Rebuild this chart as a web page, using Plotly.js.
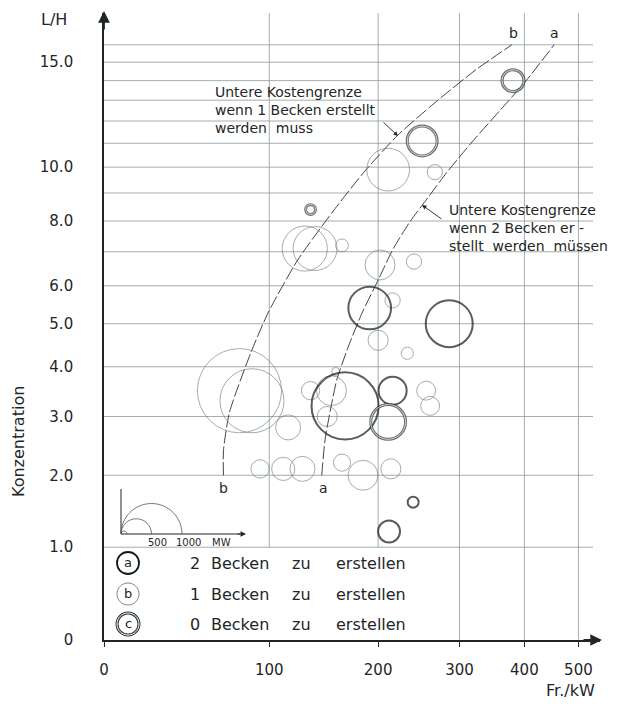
<!DOCTYPE html>
<html><head><meta charset="utf-8">
<script src="https://cdn.plot.ly/plotly-3.0.1.min.js"></script>
<style>html,body{margin:0;padding:0;background:#fff}#chart{width:623px;height:707px}</style>
</head><body><div id="chart"></div>
<script>
// ---------- data ----------
// x = Fr./kW, y = Konzentration (L/H), mw = size of unit (MW) -> circle diameter
// 1 Becken zu erstellen (thin circles)
const bX  = [129, 138, 163, 78, 87, 115, 134, 216, 200, 233, 157, 153, 149, 256, 261, 93, 111, 127, 163, 184, 214, 211, 267, 202, 241];
const bY  = [7.1, 7.1, 7.2, 3.5, 3.3, 2.8, 3.5, 5.6, 4.6, 4.3, 3.9, 3.5, 3.0, 3.5, 3.2, 2.1, 2.1, 2.1, 2.2, 2.0, 2.1, 9.9, 9.8, 6.6, 6.7];
const bMW = [740, 720, 210, 1380, 1050, 410, 300, 250, 330, 200, 130, 490, 330, 310, 310, 300, 380, 410, 280, 490, 330, 700, 250, 490, 250];
// 2 Becken zu erstellen (heavy circles)
const aX  = [191, 286, 166, 216, 240, 212];
const aY  = [5.4, 5.0, 3.2, 3.5, 1.6, 1.2];
const aMW = [700, 770, 1100, 460, 180, 360];
// 0 Becken zu erstellen (double circles)
const cX  = [134, 211, 251, 381];
const cY  = [8.4, 2.9, 11.1, 14.0];
const cMW = [160, 570, 490, 360];
// limit curves "Untere Kostengrenze"
const curveBX = [67, 67, 71, 86, 99, 123, 159, 187, 222, 271, 324, 379];
const curveBY = [2.0, 2.4, 3.07, 4.3, 5.27, 6.75, 8.56, 9.89, 11.36, 13.0, 14.6, 16.0];
const curveAX = [144, 147, 152, 158, 169, 183, 200, 216, 236, 258, 283, 318, 360, 403, 453];
const curveAY = [2.0, 2.58, 3.12, 3.72, 4.44, 5.27, 6.16, 7.06, 7.97, 8.82, 9.8, 11.06, 12.5, 14.0, 16.0];
// ticks & grid
const xTickVals = [0, 100, 200, 300, 400, 500];
const xTickText = ['0', '100', '200', '300', '400', '500'];
const yTickVals = [0, 1, 2, 3, 4, 5, 6, 8, 10, 15];
const yTickText = ['0', '1.0', '2.0', '3.0', '4.0', '5.0', '6.0', '8.0', '10.0', '15.0'];
const gridY = [1, 2, 3, 4, 5, 6, 7, 8, 9, 10, 11, 12, 13, 14, 15, 16];
const gridXShort = [100, 200];
const gridXLong = [300, 400, 500];
const legendLead = ['2', '1', '0'];
const legendSym = ['a', 'b', 'c'];
const scaleMW = [500, 1000];

// ---------- scales (shifted log axes of the original) ----------
const OFFX = 150, OFFY = 3;
const sx = v => v + OFFX, sy = v => v + OFFY;
const mwPx = 0.061; // px of diameter per MW
const L = 104, R = 23, T = 13, B = 67, W = 623, H = 707;
const PW = W - L - R, PH = H - T - B;
const pxPerDecX = 745, pxPerDecY = 742.5;
const X = px => (px - L) / PW;
const Y = py => (H - B - py) / PH;

const FONT = 'DejaVu Sans';
const INK = '#1f2626';
const GRID = '#8e9898';

const traces = [];
// grid
const gx = [], gy = [];
gridY.forEach(v => { gx.push(sx(0), sx(530), null); gy.push(sy(v), sy(v), null); });
gridXShort.forEach(v => { gx.push(sx(v), sx(v), null); gy.push(sy(1), sy(18), null); });
gridXLong.forEach(v => { gx.push(sx(v), sx(v), null); gy.push(sy(0), sy(18), null); });
traces.push({x: gx, y: gy, mode: 'lines', line: {color: GRID, width: 0.8}, hoverinfo: 'skip', connectgaps: false});
// curves
[[curveBX, curveBY], [curveAX, curveAY]].forEach(c => traces.push({
  x: c[0].map(sx), y: c[1].map(sy), mode: 'lines',
  line: {color: '#2a3030', width: 0.9, dash: '13px,3px', shape: 'spline', smoothing: 0.6}
}));
function bubbles(xs, ys, mws, color, width) {
  return {x: xs.map(sx), y: ys.map(sy), mode: 'markers', cliponaxis: false,
    marker: {size: mws, sizemode: 'diameter', sizeref: 1 / mwPx, color: 'rgba(0,0,0,0)',
      line: {color: color, width: width}}};
}
traces.push(bubbles(bX, bY, bMW, '#5f6b6b', 0.8));
traces.push(bubbles(aX, aY, aMW, '#141a1a', 2.0));
traces.push(bubbles(cX, cY, cMW, '#2b3333', 3.0));
traces.push(bubbles(cX, cY, cMW, '#ffffff', 1.0));

// ---------- decorations ----------
const k = 0.5523;
function upperHalf(cx, cy, r) {
  return `M${X(cx - r)},${Y(cy)} C${X(cx - r)},${Y(cy - k * r)} ${X(cx - k * r)},${Y(cy - r)} ${X(cx)},${Y(cy - r)} ` +
         `C${X(cx + k * r)},${Y(cy - r)} ${X(cx + r)},${Y(cy - k * r)} ${X(cx + r)},${Y(cy)}`;
}
function fullCircle(cx, cy, r) {
  return upperHalf(cx, cy, r) +
    ` C${X(cx + r)},${Y(cy + k * r)} ${X(cx + k * r)},${Y(cy + r)} ${X(cx)},${Y(cy + r)}` +
    ` C${X(cx - k * r)},${Y(cy + r)} ${X(cx - r)},${Y(cy + k * r)} ${X(cx - r)},${Y(cy)} Z`;
}
const shapes = [];
const ann = [];
function txt(t, px, py, size, opts) {
  ann.push(Object.assign({text: t, x: X(px), y: Y(py), xref: 'paper', yref: 'paper', showarrow: false,
    font: {family: FONT, size: size, color: INK}, xanchor: 'center', yanchor: 'middle'}, opts || {}));
}
function arrow(tx, ty, axp, ayp, size, width) {
  ann.push({text: '', x: X(tx), y: Y(ty), xref: 'paper', yref: 'paper', showarrow: true,
    ax: axp, ay: ayp, arrowhead: 2, arrowsize: size, arrowwidth: width, arrowcolor: INK, standoff: 0, startstandoff: 0});
}
// axis arrows
arrow(602, 640, -20, 0, 1.3, 1.8);
arrow(104, 11, 0, 20, 1.3, 1.8);
// axis titles
txt('L/H', 54, 20, 16);
txt('Konzentration', 18, 442, 16, {textangle: -90});
txt('Fr./kW', 597, 690, 16, {xanchor: 'right'});
// curve notes
txt('Untere Kostengrenze<br>wenn 1 Becken erstellt<br>werden\u00a0 muss', 213, 110, 14, {xanchor: 'left', align: 'left'});
txt('Untere Kostengrenze<br>wenn 2 Becken er -<br>stellt\u00a0 werden\u00a0 müssen', 447, 228, 14, {xanchor: 'left', align: 'left'});
arrow(398, 136, -16, -15, 1, 0.9);
arrow(422, 205, 21, 15, 1, 0.9);
txt('b', 513, 33, 14); txt('a', 554, 33, 14);
txt('b', 223, 488, 14); txt('a', 323, 488, 14);
// bubble size scale inset
const o = [121, 534];
shapes.push({type: 'path', xref: 'paper', yref: 'paper', path: `M${X(o[0])},${Y(489)} L${X(o[0])},${Y(o[1])} L${X(240)},${Y(o[1])}`,
  line: {color: INK, width: 1}});
arrow(246, o[1], -10, 0, 1.1, 1);
shapes.push({type: 'path', xref: 'paper', yref: 'paper', path: upperHalf(o[0] + 3, o[1], 3), line: {color: '#4d5858', width: 0.8}});
scaleMW.forEach(m => {
  const r = m * mwPx / 2;
  shapes.push({type: 'path', xref: 'paper', yref: 'paper', path: upperHalf(o[0] + r, o[1], r), line: {color: '#4d5858', width: 0.8}});
});
txt('500', 157, 542, 10); txt('1000', 188, 542, 10); txt('MW', 221, 542, 10);
// legend
const rows = [563, 594, 624];
rows.forEach((ry, i) => {
  const path = fullCircle(128, ry, 11);
  if (i === 0) shapes.push({type: 'path', xref: 'paper', yref: 'paper', path, line: {color: '#141a1a', width: 1.8}});
  if (i === 1) shapes.push({type: 'path', xref: 'paper', yref: 'paper', path, line: {color: '#5f6b6b', width: 0.8}});
  if (i === 2) {
    shapes.push({type: 'path', xref: 'paper', yref: 'paper', path, line: {color: '#2b3333', width: 3}});
    shapes.push({type: 'path', xref: 'paper', yref: 'paper', path, line: {color: '#ffffff', width: 1}});
  }
  txt(legendSym[i], 128, ry - 1, 13);
  txt(legendLead[i], 188, ry, 16, {xanchor: 'left'});
  txt('Becken', 209, ry, 16, {xanchor: 'left'});
  txt('zu', 290, ry, 16, {xanchor: 'left'});
  txt('erstellen', 334, ry, 16, {xanchor: 'left'});
});

const layout = {
  width: W, height: H, autosize: false, showlegend: false, hovermode: false,
  margin: {l: L, r: R, t: T, b: B, pad: 0},
  paper_bgcolor: '#fff', plot_bgcolor: '#fff',
  font: {family: FONT, color: INK},
  xaxis: {type: 'log', range: [Math.log10(OFFX), Math.log10(OFFX) + PW / pxPerDecX],
    tickvals: xTickVals.map(sx), ticktext: xTickText, ticks: 'outside', ticklen: 5, tickcolor: INK,
    tickfont: {family: FONT, size: 15, color: INK}, ticklabelstandoff: 10,
    showgrid: false, zeroline: false, showline: true, linecolor: INK, linewidth: 1.8},
  yaxis: {type: 'log', range: [Math.log10(OFFY), Math.log10(OFFY) + PH / pxPerDecY],
    tickvals: yTickVals.map(sy), ticktext: yTickText, ticks: '',
    tickfont: {family: FONT, size: 15, color: INK}, ticklabelstandoff: 26,
    showgrid: false, zeroline: false, showline: true, linecolor: INK, linewidth: 1.8},
  shapes: shapes, annotations: ann
};
Plotly.newPlot('chart', traces, layout, {staticPlot: true, displayModeBar: false});
</script></body></html>
